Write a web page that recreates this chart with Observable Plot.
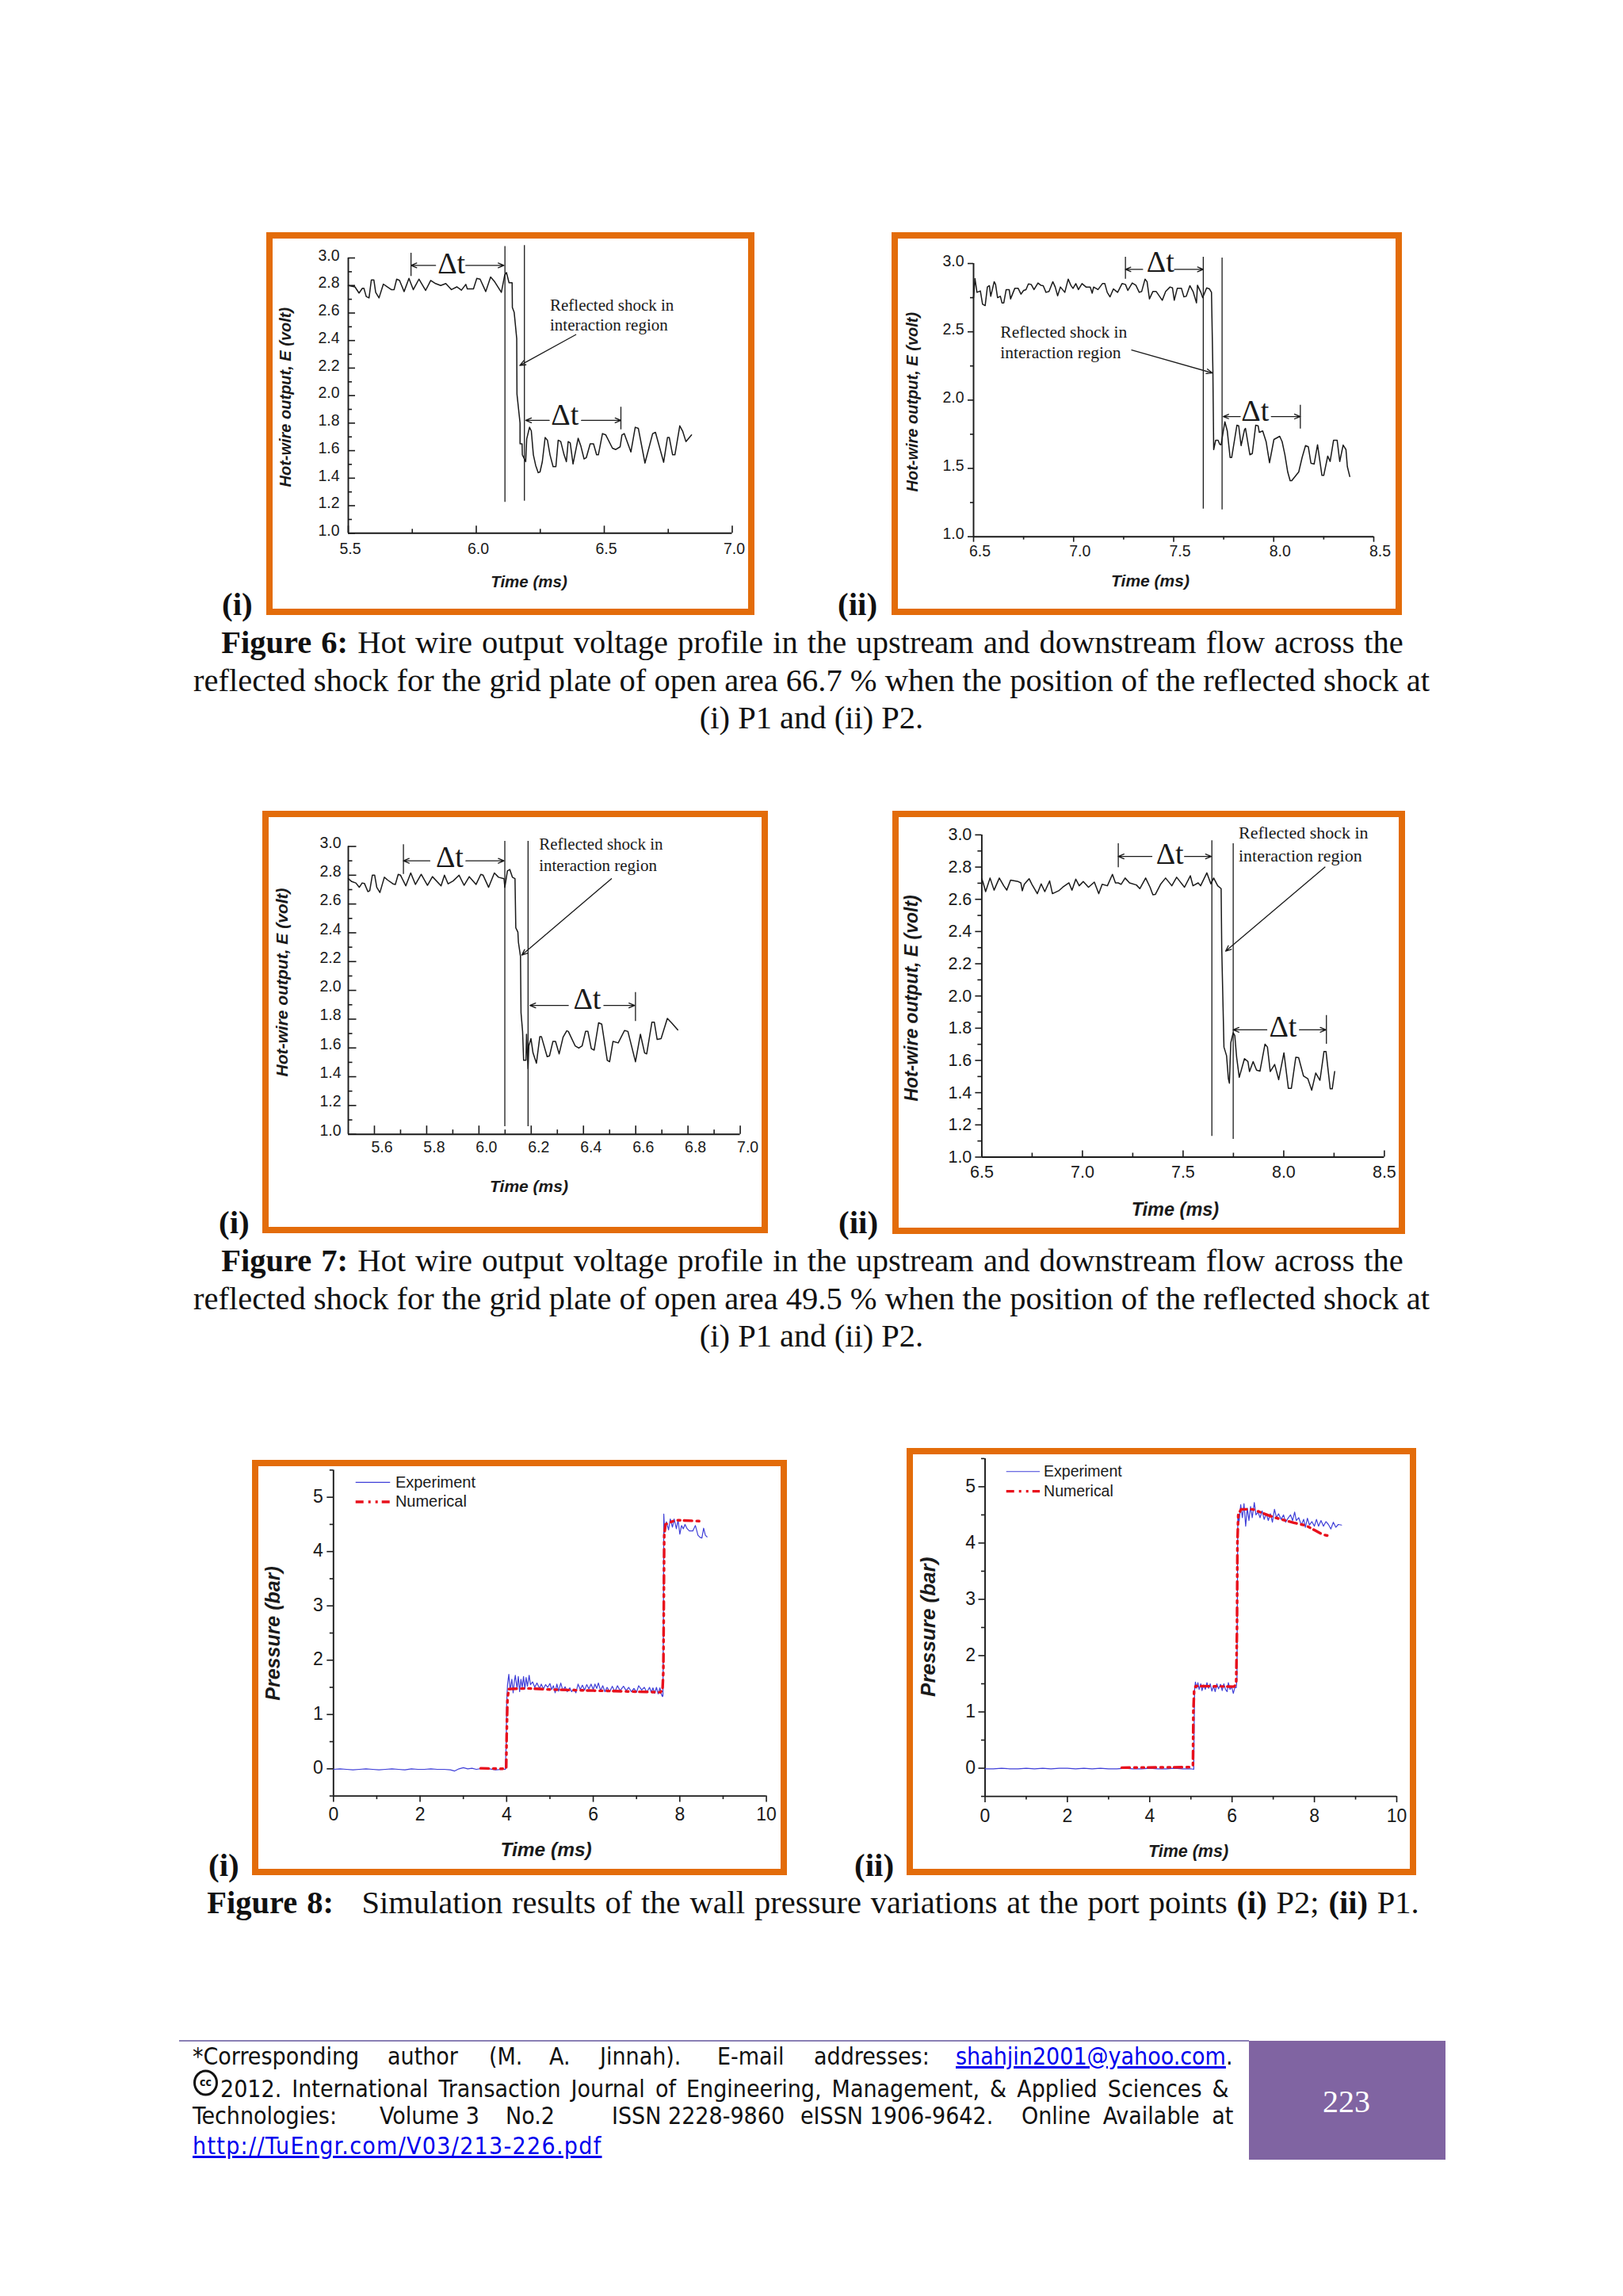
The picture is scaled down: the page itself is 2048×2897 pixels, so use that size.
<!DOCTYPE html>
<html><head><meta charset="utf-8">
<script src="https://cdn.jsdelivr.net/npm/d3@7"></script>
<script src="https://cdn.jsdelivr.net/npm/@observablehq/plot@0.6"></script>
<style>
html,body{margin:0;padding:0;background:#fff;}
#page{position:relative;width:2048px;height:2897px;background:#fff;overflow:hidden;}
.frame{position:absolute;box-sizing:border-box;border:8px solid #E36C0A;background:#fff;}
.holder{position:absolute;}
.holder svg{display:block;max-width:none;overflow:visible;}
.t{position:absolute;white-space:pre;font-family:"Liberation Serif",serif;color:#111;line-height:1;}
.cap{transform:translate(-50%,-50%);}
.fig{transform:translateY(-50%);font-weight:bold;}
.foot{position:absolute;font-family:"DejaVu Sans Condensed","DejaVu Sans",sans-serif;font-stretch:condensed;font-size:30px;line-height:1;color:#111;transform:translateY(-50%);white-space:pre;}
.foot a{color:#0000ee;text-decoration:underline;}
</style></head><body><div id="page"></div>
<script>
// Figure 6 (i)
const t6i=[5.5,5.526,5.542,5.555,5.561,5.57,5.581,5.59,5.6,5.607,5.62,5.637,5.652,5.668,5.679,5.689,5.7,5.718,5.737,5.754,5.776,5.802,5.822,5.841,5.861,5.881,5.903,5.924,5.942,5.959,5.965,5.989,6.002,6.015,6.037,6.056,6.072,6.098,6.111,6.118,6.128,6.14,6.141,6.148,6.158,6.159,6.171,6.171,6.179,6.18,6.193,6.197,6.208,6.215,6.223,6.232,6.242,6.249,6.258,6.269,6.278,6.288,6.3,6.311,6.32,6.33,6.343,6.352,6.359,6.367,6.378,6.398,6.408,6.421,6.43,6.445,6.458,6.47,6.477,6.493,6.506,6.532,6.545,6.562,6.569,6.578,6.604,6.621,6.633,6.659,6.689,6.7,6.732,6.747,6.754,6.767,6.776,6.795,6.806,6.819,6.841];
const e6i=[2.8,2.79,2.745,2.78,2.78,2.72,2.71,2.84,2.84,2.75,2.71,2.81,2.79,2.77,2.77,2.846,2.837,2.756,2.852,2.77,2.846,2.764,2.837,2.814,2.8,2.814,2.77,2.79,2.766,2.808,2.775,2.775,2.852,2.846,2.756,2.862,2.827,2.75,2.875,2.894,2.82,2.82,2.64,2.606,2.415,2.01,1.8,1.65,1.65,1.57,1.52,1.685,1.77,1.743,1.57,1.493,1.44,1.445,1.52,1.695,1.676,1.57,1.484,1.484,1.676,1.666,1.57,1.52,1.666,1.656,1.503,1.69,1.637,1.54,1.55,1.65,1.65,1.57,1.57,1.724,1.714,1.618,1.608,1.628,1.714,1.724,1.59,1.77,1.762,1.51,1.724,1.733,1.516,1.695,1.695,1.57,1.57,1.78,1.743,1.666,1.714];
// Figure 6 (ii)
const t6ii=[6.5,6.507,6.517,6.534,6.545,6.558,6.569,6.579,6.586,6.603,6.61,6.62,6.634,6.642,6.651,6.663,6.678,6.685,6.706,6.723,6.737,6.75,6.762,6.774,6.788,6.802,6.822,6.836,6.848,6.862,6.877,6.896,6.908,6.92,6.934,6.956,6.973,6.987,6.997,7.011,7.024,7.042,7.062,7.083,7.093,7.1,7.122,7.144,7.156,7.168,7.182,7.199,7.22,7.242,7.259,7.271,7.293,7.311,7.328,7.34,7.357,7.367,7.379,7.396,7.413,7.443,7.46,7.482,7.494,7.503,7.518,7.539,7.551,7.563,7.581,7.597,7.614,7.619,7.636,7.645,7.665,7.679,7.689,7.696,7.7,7.71,7.722,7.73,7.737,7.748,7.756,7.768,7.782,7.79,7.816,7.825,7.837,7.854,7.859,7.881,7.893,7.91,7.922,7.928,7.945,7.962,7.979,8.001,8.03,8.042,8.056,8.07,8.082,8.09,8.125,8.142,8.159,8.173,8.186,8.202,8.219,8.241,8.25,8.27,8.282,8.299,8.317,8.33,8.347,8.361,8.368,8.38];
const e6ii=[2.75,2.89,2.789,2.799,2.702,2.692,2.828,2.838,2.76,2.867,2.847,2.75,2.76,2.712,2.712,2.809,2.809,2.741,2.818,2.818,2.776,2.803,2.809,2.851,2.847,2.809,2.857,2.841,2.838,2.789,2.795,2.867,2.828,2.764,2.828,2.789,2.886,2.838,2.818,2.853,2.809,2.853,2.828,2.828,2.783,2.828,2.809,2.853,2.853,2.789,2.756,2.814,2.789,2.853,2.847,2.803,2.857,2.841,2.789,2.795,2.886,2.867,2.741,2.795,2.795,2.731,2.795,2.828,2.822,2.731,2.818,2.818,2.756,2.76,2.838,2.795,2.712,2.841,2.789,2.75,2.822,2.814,2.789,2.219,1.638,1.706,1.706,1.677,1.673,1.774,1.841,1.774,1.58,1.58,1.816,1.812,1.667,1.783,1.793,1.6,1.609,1.816,1.812,1.764,1.774,1.696,1.542,1.712,1.735,1.696,1.6,1.474,1.41,1.41,1.474,1.58,1.667,1.658,1.538,1.532,1.673,1.449,1.449,1.59,1.551,1.706,1.706,1.551,1.671,1.638,1.513,1.441];
// Figure 7 (i)
const t7i=[5.5,5.513,5.529,5.542,5.553,5.562,5.575,5.582,5.592,5.601,5.609,5.621,5.638,5.651,5.671,5.68,5.691,5.7,5.72,5.739,5.757,5.779,5.803,5.822,5.855,5.868,5.882,5.901,5.924,5.943,5.963,5.989,6.007,6.016,6.037,6.059,6.075,6.096,6.099,6.109,6.118,6.128,6.138,6.141,6.149,6.151,6.159,6.161,6.167,6.171,6.18,6.182,6.188,6.191,6.199,6.207,6.22,6.233,6.239,6.261,6.27,6.283,6.293,6.307,6.322,6.336,6.342,6.368,6.382,6.395,6.408,6.417,6.43,6.441,6.458,6.47,6.491,6.5,6.513,6.533,6.557,6.57,6.599,6.618,6.634,6.642,6.662,6.671,6.682,6.697,6.721,6.737,6.761];
const e7i=[2.776,2.756,2.746,2.716,2.746,2.742,2.686,2.692,2.8,2.8,2.716,2.68,2.786,2.766,2.74,2.736,2.806,2.8,2.726,2.816,2.736,2.806,2.73,2.79,2.726,2.8,2.74,2.76,2.8,2.73,2.79,2.736,2.806,2.8,2.716,2.816,2.786,2.776,2.716,2.83,2.84,2.786,2.776,2.435,2.405,2.335,2.235,1.845,1.715,1.514,1.514,1.695,1.455,1.615,1.665,1.565,1.494,1.679,1.679,1.539,1.545,1.645,1.645,1.559,1.675,1.719,1.715,1.615,1.599,1.615,1.715,1.715,1.595,1.585,1.775,1.765,1.514,1.504,1.645,1.635,1.721,1.715,1.504,1.695,1.565,1.559,1.779,1.779,1.659,1.665,1.805,1.775,1.725];
// Figure 7 (ii)
const t7ii=[6.5,6.507,6.519,6.541,6.561,6.587,6.609,6.624,6.643,6.681,6.694,6.701,6.711,6.735,6.749,6.776,6.795,6.813,6.837,6.851,6.882,6.902,6.933,6.948,6.967,6.984,7.004,7.03,7.059,7.081,7.098,7.124,7.149,7.164,7.178,7.192,7.212,7.234,7.268,7.285,7.314,7.336,7.35,7.362,7.388,7.413,7.444,7.468,7.507,7.536,7.549,7.575,7.587,7.618,7.638,7.652,7.672,7.689,7.692,7.703,7.716,7.725,7.73,7.737,7.749,7.757,7.766,7.779,7.805,7.822,7.83,7.848,7.865,7.882,7.907,7.919,7.933,7.955,7.975,8.001,8.023,8.038,8.06,8.074,8.098,8.12,8.139,8.159,8.18,8.2,8.21,8.231,8.241,8.253];
const e7ii=[2.728,2.702,2.648,2.732,2.657,2.732,2.684,2.657,2.719,2.71,2.702,2.653,2.693,2.728,2.693,2.635,2.696,2.648,2.714,2.635,2.653,2.675,2.702,2.657,2.725,2.684,2.71,2.675,2.707,2.635,2.693,2.684,2.755,2.702,2.702,2.693,2.732,2.702,2.689,2.666,2.732,2.675,2.628,2.63,2.693,2.732,2.684,2.737,2.675,2.746,2.684,2.702,2.684,2.764,2.696,2.732,2.684,2.666,2.299,1.683,1.629,1.486,1.459,1.71,1.772,1.754,1.62,1.495,1.611,1.593,1.531,1.593,1.54,1.534,1.701,1.683,1.531,1.575,1.481,1.647,1.427,1.427,1.62,1.617,1.504,1.486,1.415,1.522,1.477,1.656,1.656,1.424,1.424,1.531];
// Figure 8 (i) experiment and numerical
const t8i=[0,.15,.3,.45,.6,.75,.9,1.05,1.2,1.35,1.5,1.65,1.8,1.95,2.1,2.25,2.4,2.55,2.7,2.8,2.9,3,3.1,3.2,3.3,3.45,3.6,3.75,3.9,3.97,3.99,4,4.02,4.05,4.08,4.12,4.15,4.18,4.2,4.24,4.27,4.3,4.33,4.36,4.39,4.42,4.45,4.48,4.52,4.55,4.6,4.65,4.7,4.76,4.8,4.85,4.9,4.95,5,5.04,5.08,5.12,5.16,5.2,5.25,5.3,5.35,5.4,5.46,5.5,5.55,5.6,5.65,5.7,5.75,5.8,5.85,5.9,5.95,6,6.04,6.08,6.12,6.17,6.22,6.27,6.32,6.38,6.44,6.5,6.56,6.62,6.7,6.76,6.82,6.88,6.94,7,7.05,7.12,7.18,7.24,7.3,7.34,7.38,7.42,7.46,7.5,7.54,7.58,7.6,7.61,7.62,7.63,7.65,7.69,7.74,7.78,7.83,7.87,7.92,7.96,8,8.04,8.08,8.12,8.17,8.22,8.3,8.36,8.42,8.47,8.51,8.55,8.59,8.63,8.68];
const p8i=[-.01,.0,-.01,-.02,-.01,.0,-.01,-.02,-.01,.0,-.01,-.02,.0,-.01,-.01,.0,-.01,-.01,-.02,-.04,.0,.02,.0,.01,-.01,.01,.0,-.02,-.01,-.01,.5,1.2,1.55,1.74,1.45,1.65,1.4,1.62,1.72,1.48,1.7,1.42,1.65,1.5,1.7,1.47,1.68,1.52,1.72,1.55,1.6,1.5,1.58,1.48,1.56,1.47,1.55,1.5,1.57,1.46,1.53,1.4,1.56,1.43,1.58,1.44,1.51,1.42,1.49,1.42,1.47,1.4,1.56,1.46,1.54,1.45,1.55,1.47,1.56,1.46,1.56,1.48,1.58,1.44,1.53,1.42,1.5,1.42,1.52,1.42,1.53,1.44,1.52,1.44,1.5,1.42,1.48,1.41,1.53,1.45,1.5,1.41,1.5,1.41,1.49,1.39,1.5,1.38,1.49,1.36,1.33,1.34,2.6,4.69,4.35,4.55,4.4,4.6,4.45,4.6,4.42,4.58,4.32,4.48,4.42,4.5,4.42,4.38,4.38,4.48,4.3,4.26,4.25,4.43,4.3,4.27];
const tn8i=[3.4,3.95,3.99,4.0,4.02,4.05,4.5,5,5.5,6,6.5,7,7.55,7.6,7.62,7.63,7.64,7.67,7.9,8.45];
const pn8i=[.01,.0,.02,.6,1.3,1.47,1.48,1.46,1.45,1.44,1.43,1.42,1.41,1.45,1.8,3,4.3,4.5,4.58,4.56];
// Figure 8 (ii) experiment and numerical
const t8ii=[0,.2,.4,.6,.8,1,1.2,1.4,1.6,1.8,2,2.2,2.4,2.6,2.8,3,3.2,3.4,3.6,3.8,4,4.2,4.4,4.6,4.8,5,5.07,5.08,5.09,5.11,5.14,5.17,5.2,5.24,5.27,5.31,5.35,5.39,5.43,5.47,5.51,5.55,5.59,5.63,5.67,5.72,5.76,5.8,5.84,5.88,5.91,5.95,5.99,6.03,6.07,6.1,6.12,6.13,6.14,6.17,6.21,6.25,6.29,6.33,6.37,6.41,6.45,6.49,6.54,6.58,6.63,6.68,6.73,6.78,6.83,6.88,6.93,6.98,7.03,7.08,7.13,7.19,7.25,7.3,7.36,7.42,7.47,7.52,7.56,7.62,7.68,7.74,7.78,7.83,7.88,7.94,8,8.05,8.1,8.16,8.22,8.28,8.34,8.4,8.46,8.52,8.58,8.66];
const p8ii=[-.01,-.01,.0,-.01,-.01,.0,-.01,.0,-.01,.0,.0,-.01,.0,-.01,.0,-.01,-.01,.0,-.01,-.01,.0,-.01,-.01,.0,-.01,-.01,-.02,.8,1.4,1.53,1.42,1.52,1.4,1.5,1.38,1.48,1.4,1.52,1.42,1.5,1.37,1.46,1.36,1.5,1.41,1.49,1.38,1.5,1.4,1.36,1.52,1.4,1.45,1.33,1.44,1.43,1.6,3.2,4.5,4.38,4.68,4.45,4.7,4.3,4.62,4.4,4.65,4.45,4.72,4.5,4.55,4.45,4.57,4.42,4.52,4.4,4.52,4.37,4.6,4.45,4.52,4.42,4.5,4.37,4.44,4.5,4.4,4.55,4.4,4.45,4.32,4.42,4.28,4.44,4.32,4.38,4.3,4.42,4.3,4.4,4.3,4.38,4.33,4.25,4.37,4.28,4.33,4.32];
const tn8ii=[3.32,5,5.05,5.06,5.08,5.12,6.05,6.1,6.12,6.13,6.15,6.22,6.5,7,7.5,7.8,8,8.2,8.4];
const pn8ii=[.01,.02,.05,1,1.4,1.46,1.45,1.5,2.5,4,4.5,4.6,4.6,4.46,4.36,4.31,4.23,4.15,4.12];

const labelVolt="Hot-wire output, E (volt)", labelTime="Time (ms)", labelPres="Pressure (bar)";
const noteLines=["Reflected shock in","interaction region"];
const seq=(a,b,s)=>d3.range(Math.round((b-a)/s)+1).map(i=>+(a+i*s).toFixed(3));

const charts=[
 {t:t6i,v:e6i,ylabel:labelVolt,xd:[5.5,7],yd:[1,3],xM:seq(5.5,7,.5),xm:seq(5.75,6.75,.5),yM:seq(1,3,.2),ym:seq(1.1,2.9,.2),fmt:".1f",
  frame:[336,293,952,776],axis:[439,325,923.5,672.3],inX:true,inY:true,tick:[9,5],font:19.5,xPad:12,xDx:2.5,yPad:11,yDy:-3,
  title:{size:20.5,ysize:20,x:667,y:734,yx:360,yy:500.7},
  vl:[[6.112,3.083,1.225],[6.188,3.09,1.233]],dt:[[5.745,3.035,2.866],[6.565,1.916,1.752]],
  ar:[[5.841,2.946,5.745,2.946],[5.959,2.946,6.108,2.946],[6.285,1.82,6.193,1.82],[6.411,1.82,6.565,1.82],[6.389,2.443,6.17,2.219]],
  dl:[[5.903,2.96],[6.346,1.86]],note:[[6.288,2.655],[6.288,2.51]],noteSize:21},
 {t:t6ii,v:e6ii,ylabel:labelVolt,xd:[6.5,8.5],yd:[1,3],xM:seq(6.5,8.5,.5),xm:seq(6.75,8.25,.5),yM:seq(1,3,.5),ym:seq(1.25,2.75,.5),fmt:".1f",
  frame:[1125,293,1769,776],axis:[1228,332,1733,676.7],inX:false,inY:false,tick:[7,4],font:19.5,xPad:11,xDx:8,yPad:12,yDy:-3,
  title:{size:21,ysize:20,x:1451,y:733,yx:1151,yy:506.7},
  vl:[[7.648,3.046,1.203],[7.742,3.04,1.197]],dt:[[7.259,3.046,2.886],[8.133,1.963,1.789]],
  ar:[[7.345,2.957,7.259,2.957],[7.504,2.957,7.648,2.957],[7.833,1.88,7.748,1.88],[7.988,1.88,8.133,1.88],[7.29,2.367,7.693,2.199]],
  dl:[[7.434,3.008],[7.907,1.919]],note:[[6.634,2.495],[6.634,2.348]],noteSize:21.5},
 {t:t7i,v:e7i,ylabel:labelVolt,xd:[5.5,7],yd:[1,3],xM:seq(5.6,7,.2),xm:seq(5.7,6.9,.2),yM:seq(1,3,.2),ym:seq(1.1,2.9,.2),fmt:".1f",
  frame:[331,1023,969,1556],axis:[439,1067.5,933.6,1430.7],inX:true,inY:true,tick:[10.5,5.5],font:19.5,xPad:8.5,xDx:9.5,yPad:9,yDy:-4.7,
  title:{size:21,ysize:21,x:667,y:1496.5,yx:355.6,yy:1239},
  vl:[[6.099,3.036,1.054],[6.188,3.036,1.054]],dt:[[5.711,3.012,2.806],[6.599,1.985,1.785]],
  ar:[[5.812,2.9,5.711,2.9],[5.95,2.9,6.096,2.9],[6.342,1.895,6.195,1.895],[6.478,1.895,6.596,1.895],[6.507,2.776,6.164,2.245]],
  dl:[[5.888,2.926],[6.414,1.939]],note:[[6.23,3.016],[6.23,2.868]],noteSize:21},
 {t:t7ii,v:e7ii,ylabel:labelVolt,xd:[6.5,8.5],yd:[1,3],xM:seq(6.5,8.5,.5),xm:seq(6.75,8.25,.5),yM:seq(1,3,.2),ym:seq(1.1,2.9,.2),fmt:".1f",
  frame:[1125.6,1023,1773.5,1556.5],axis:[1238,1052.9,1746,1459.5],inX:true,inY:false,tick:[8,5],font:21.5,xPad:11,xDx:0,yPad:12.6,yDy:0,
  title:{size:23.5,ysize:23,x:1482,y:1525.6,yx:1150,yy:1259},
  vl:[[7.643,2.964,1.129],[7.749,2.946,1.111]],dt:[[7.178,2.946,2.796],[8.212,1.879,1.701]],
  ar:[[7.345,2.866,7.178,2.866],[7.507,2.866,7.64,2.866],[7.916,1.79,7.749,1.79],[8.078,1.79,8.21,1.79],[8.205,2.8,7.711,2.278]],
  dl:[[7.434,2.88],[7.996,1.808]],note:[[7.776,3.014],[7.776,2.871]],noteSize:22},
 {t:t8i,v:p8i,tn:tn8i,vn:pn8i,ylabel:labelPres,xd:[0,10],yd:[-.5,5.5],xM:seq(0,10,2),xm:seq(1,9,2),yM:seq(0,5,1),ym:seq(-.5,5.5,1),fmt:"d",
  frame:[318.4,1842,993,2366],axis:[420.7,1854.4,967,2265.6],inX:false,inY:false,tick:[8,4.5],font:23,xPad:15,xDx:0,yPad:13,yDy:-1,
  title:{size:24.5,ysize:25,x:689,y:2333.5,yx:345,yy:2060.5},
  legend:{x1:.52,x2:1.317,tx:1.43,y1:5.275,y2:4.914,size:20}},
 {t:t8ii,v:p8ii,tn:tn8ii,vn:pn8ii,ylabel:labelPres,xd:[0,10],yd:[-.5,5.5],xM:seq(0,10,2),xm:seq(1,9,2),yM:seq(0,5,1),ym:seq(-.5,5.5,1),fmt:"d",
  frame:[1144,1826.7,1787,2366.4],axis:[1242.5,1839.6,1762,2265.8],inX:false,inY:false,tick:[8,4.5],font:23,xPad:16.5,xDx:0,yPad:12,yDy:0,
  title:{size:21.5,ysize:26,x:1499,y:2335,yx:1171,yy:2052},
  legend:{x1:.524,x2:1.34,tx:1.426,y1:5.27,y2:4.92,size:19.5}}
];

const ink="#1a1a1a", blue="#3f3fd8", red="#e8101c", dashN="10,6,3,6,3,5";
const page=document.getElementById("page");

charts.forEach(c=>{
  const [fl,ft,fr,fb]=c.frame,[al,at,ar,ab]=c.axis;
  const xs=(c.xd[1]-c.xd[0])/(ar-al), ys=(c.yd[1]-c.yd[0])/(ab-at);
  const x0=c.xd[0], y0=c.yd[0];
  const sx=c.inY?1:-1, sy=c.inX?1:-1;
  const xt=(arr,len)=>Plot.ruleX(arr,{x:d=>d,y1:()=>y0,y2:()=>y0+sy*len*ys,stroke:ink,strokeWidth:1.6});
  const yt=(arr,len)=>Plot.ruleY(arr,{y:d=>d,x1:()=>x0,x2:()=>x0+sx*len*xs,stroke:ink,strokeWidth:1.6});
  const marks=[
    Plot.ruleY([y0],{x1:()=>c.xd[0],x2:()=>c.xd[1],stroke:ink,strokeWidth:1.9}),
    Plot.ruleX([x0],{y1:()=>c.yd[0],y2:()=>c.yd[1],stroke:ink,strokeWidth:1.9}),
    xt(c.xM,c.tick[0]),xt(c.xm,c.tick[1]),yt(c.yM,c.tick[0]),yt(c.ym,c.tick[1]),
    Plot.axisX({ticks:c.xM,tickSize:0,tickPadding:c.xPad,tickFormat:d3.format(c.fmt),label:null,fontSize:c.font,dx:c.xDx,color:ink}),
    Plot.axisY({ticks:c.yM,tickSize:0,tickPadding:c.yPad,tickFormat:d3.format(c.fmt),label:null,fontSize:c.font,dy:c.yDy,color:ink}),
    Plot.text([labelTime],{frameAnchor:"top-left",dx:c.title.x-al,dy:c.title.y-at,fontSize:c.title.size,fontWeight:"bold",fontStyle:"italic",fill:ink,textAnchor:"middle",lineAnchor:"middle"}),
    Plot.text([c.ylabel],{frameAnchor:"top-left",dx:c.title.yx-al,dy:c.title.yy-at,rotate:-90,fontSize:c.title.ysize,fontWeight:"bold",fontStyle:"italic",fill:ink,textAnchor:"middle",lineAnchor:"middle"}),
  ];
  const series=c.t.map((t,i)=>({t,v:c.v[i]}));
  if(c.tn){
    const num=c.tn.map((t,i)=>({t,v:c.vn[i]}));
    marks.push(Plot.line(series,{x:"t",y:"v",stroke:blue,strokeWidth:1.2,curve:"linear"}));
    marks.push(Plot.line(num,{x:"t",y:"v",stroke:red,strokeWidth:3.4,strokeDasharray:dashN,curve:"linear"}));
    const L=c.legend;
    marks.push(Plot.ruleY([L.y1],{x1:()=>L.x1,x2:()=>L.x2,stroke:blue,strokeWidth:1.2}));
    marks.push(Plot.ruleY([L.y2],{x1:()=>L.x1,x2:()=>L.x2,stroke:red,strokeWidth:3.4,strokeDasharray:dashN}));
    marks.push(Plot.text([["Experiment",L.y1],["Numerical",L.y2]],{x:()=>L.tx,y:d=>d[1],text:d=>d[0],fontSize:L.size,fill:ink,textAnchor:"start",lineAnchor:"middle"}));
  } else {
    marks.push(Plot.line(series,{x:"t",y:"v",stroke:ink,strokeWidth:1.5,curve:"linear"}));
    marks.push(Plot.ruleX(c.vl,{x:d=>d[0],y1:d=>d[1],y2:d=>d[2],stroke:ink,strokeWidth:1.3}));
    marks.push(Plot.ruleX(c.dt,{x:d=>d[0],y1:d=>d[1],y2:d=>d[2],stroke:ink,strokeWidth:1.3}));
    marks.push(Plot.arrow(c.ar,{x1:d=>d[0],y1:d=>d[1],x2:d=>d[2],y2:d=>d[3],stroke:ink,strokeWidth:1.3,headLength:9,headAngle:45,bend:0}));
    marks.push(Plot.text(c.dl,{x:d=>d[0],y:d=>d[1],text:()=>"Δt",fontFamily:"Liberation Serif",fontSize:38,fill:ink,textAnchor:"middle",lineAnchor:"middle"}));
    marks.push(Plot.text(c.note,{x:d=>d[0],y:d=>d[1],text:(d,i)=>noteLines[i],fontFamily:"Liberation Serif",fontSize:c.noteSize,fill:ink,textAnchor:"start",lineAnchor:"middle"}));
  }
  const svg=Plot.plot({
    width:fr-fl,height:fb-ft,
    marginLeft:al-fl,marginRight:fr-ar,marginTop:at-ft,marginBottom:fb-ab,
    x:{domain:c.xd,axis:null},y:{domain:c.yd,axis:null},
    style:{background:"transparent",fontFamily:"Liberation Sans",overflow:"visible"},
    marks
  });
  const fd=document.createElement("div");fd.className="frame";
  Object.assign(fd.style,{left:fl+"px",top:ft+"px",width:(fr-fl)+"px",height:(fb-ft)+"px"});
  page.appendChild(fd);
  const h=document.createElement("div");h.className="holder";
  Object.assign(h.style,{left:fl+"px",top:ft+"px",width:(fr-fl)+"px",height:(fb-ft)+"px"});
  h.appendChild(svg);page.appendChild(h);
});

// page text
const capSize=40.5;
function addText(html,x,y,cls,size){const e=document.createElement("div");e.className="t "+cls;e.innerHTML=html;
  Object.assign(e.style,{left:x+"px",top:y+"px",fontSize:size+"px"});page.appendChild(e);return e;}
const capLines=[
 ["<b>Figure 6:</b> Hot wire output voltage profile in the upstream and downstream flow across the",1025,811,2],
 ["reflected shock for the grid plate of open area 66.7 % when the position of the reflected shock at",1024,859,0],
 ["(i) P1 and (ii) P2.",1024,906,0],
 ["<b>Figure 7:</b> Hot wire output voltage profile in the upstream and downstream flow across the",1025,1591,2],
 ["reflected shock for the grid plate of open area 49.5 % when the position of the reflected shock at",1024,1639,0],
 ["(i) P1 and (ii) P2.",1024,1686,0],
 ["<b>Figure 8:</b>   Simulation results of the wall pressure variations at the port points <b>(i)</b> P2; <b>(ii)</b> P1.",1026,2401,1.7]
];
capLines.forEach(l=>{addText(l[0],l[1],l[2],"cap",capSize).style.wordSpacing=l[3]+"px";});
[["(i)",280,762],["(ii)",1057,762],["(i)",276,1542],["(ii)",1058,1542],["(i)",263,2353],["(ii)",1078,2353]]
 .forEach(l=>addText(l[0],l[1],l[2],"fig",41));

// footer
const rule=document.createElement("div");
Object.assign(rule.style,{position:"absolute",left:"226px",top:"2574px",width:"1350px",height:"2px",background:"#8a7fb5"});page.appendChild(rule);
const box=document.createElement("div");
Object.assign(box.style,{position:"absolute",left:"1576px",top:"2575px",width:"248px",height:"150px",background:"#8064A2"});page.appendChild(box);
const pn=addText("223",1699,2652,"cap",40);pn.style.color="#fff";
const footSegments=[
 ["*Corresponding",243,2595,0],["author",489,2595,0],["(M.",617,2595,0],["A.",693,2595,0],["Jinnah).",757,2595,0],["E-mail",905,2595,0],["addresses:",1027,2595,0],
 ["<a>shahjin2001@yahoo.com</a>.",1206,2595,0],
 ["2012. International Transaction Journal of Engineering, Management, &amp; Applied Sciences &amp;",278,2636,4.5],
 ["Technologies:",243,2670,0],["Volume 3",479,2670,0],["No.2",638,2670,0],["ISSN 2228-9860",772,2670,0],["eISSN 1906-9642.",1010,2670,0],["Online Available at",1289,2670,7],
 ["<a style=\"letter-spacing:1.3px\">http://TuEngr.com/V03/213-226.pdf</a>",243,2708,0]
];
footSegments.forEach(s=>{const e=document.createElement("div");e.className="foot";e.innerHTML=s[0];
  Object.assign(e.style,{left:s[1]+"px",top:s[2]+"px",wordSpacing:s[3]+"px"});page.appendChild(e);});
const cc=document.createElement("div");cc.className="foot";cc.textContent="cc";
Object.assign(cc.style,{left:"244px",top:"2628px",boxSizing:"border-box",width:"31px",height:"33px",border:"3.5px solid #111",borderRadius:"50%",fontSize:"14px",lineHeight:"24px",textAlign:"center",fontWeight:"bold"});
page.appendChild(cc);
</script></body></html>
